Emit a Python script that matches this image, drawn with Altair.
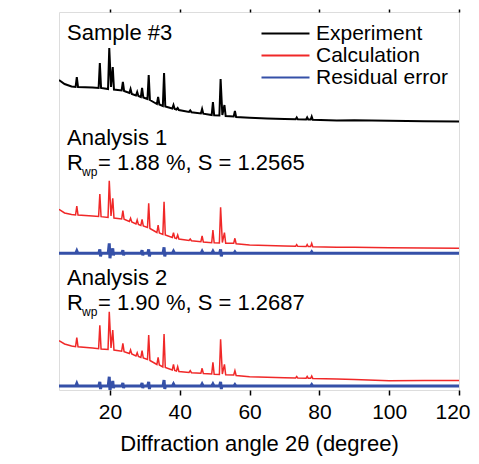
import altair as alt
import pandas as pd

# shared x positions (2theta, degree) for experiment / calculation curves
xs = [5.4, 7, 9, 10.15, 10.5, 10.85, 15, 16.75, 17.1, 17.45,
      19.45, 19.8, 20.3, 20.8, 21.15, 23.35, 23.7, 24.05,
      25.55, 25.9, 26.25, 27.45, 27.8, 28.15, 28.85, 29.2, 29.55,
      30.75, 31.1, 31.45, 33.45, 33.8, 34.15, 35.15, 35.5, 35.85,
      37.85, 38.2, 38.55, 39.05, 39.4, 39.75, 42.65, 43, 43.35,
      46.05, 46.4, 46.75, 49.15, 49.5, 49.85, 51.35, 51.7, 52.2, 52.8, 53.15,
      55.45, 55.8, 56.15, 60, 65, 70, 73.2, 73.5, 73.8,
      76.2, 76.5, 76.8, 77.5, 77.8, 78.1, 85, 90, 100, 110, 120]

exp_y = [310, 306, 303.5, 303, 313, 303, 302.5, 302, 327, 302,
         301, 342, 303, 323, 300.5, 299.5, 308, 299,
         297, 301, 296, 294.5, 298, 294, 293, 302, 292.5,
         291, 315, 290, 286, 293, 285.5, 284, 317, 283.5,
         281.5, 285, 281, 280.5, 282, 280, 278, 279.5, 277.8,
         276.5, 281, 276.3, 275, 288, 274.8, 274.5, 311, 275, 285, 274,
         273.5, 279, 273, 272.3, 271.5, 271, 270.8, 272.5, 270.7,
         270.5, 272.5, 270.5, 270.5, 273.5, 270.3, 269.5, 269.8, 269.3, 268.8, 268.5]

calc1_y = [180.7, 177, 175.5, 175, 184, 175, 174, 173.5, 196, 173.3,
           172.5, 209.3, 174, 191.7, 172, 171, 179.3, 170.7,
           168.5, 171.7, 168, 166, 170, 165.5, 164.5, 170.7, 164,
           162.5, 186.7, 161.5, 157.5, 165, 157, 155.5, 188.3, 155,
           152.5, 157.3, 152, 151.5, 155, 151, 149.5, 151, 149.3,
           148.3, 154, 148, 147.3, 160, 147.2, 147, 182.7, 147.5, 157.3, 146.8,
           146.7, 151.7, 146.3, 145, 144.5, 144, 143.8, 145.3, 143.7,
           143.5, 145.5, 143.5, 143.4, 146.5, 143.3, 142.7, 142.8, 142.2, 141.9, 141.7]

calc2_y = [49.3, 46, 44, 43.3, 52.3, 43.2, 42, 41.3, 64.7, 41,
           40.5, 78.3, 42, 60, 40, 38.8, 46.7, 38.3,
           36.5, 40, 36, 34, 37.3, 33.5, 32.5, 39.3, 32,
           30.5, 55, 29.5, 25.5, 32.7, 25, 23, 56, 22.5,
           20, 25.7, 19.5, 19, 23.3, 18.5, 17.5, 19.3, 17.3,
           16.8, 21.7, 16.5, 16, 27.7, 15.8, 15.5, 50.7, 16, 25.7, 15.3,
           15, 19.3, 14.5, 13.3, 12.8, 12.3, 12, 13.5, 12,
           11.8, 13.5, 11.8, 11.7, 14, 11.6, 11, 10.5, 9.3, 9.5, 9.5]

# residual error curves (flat band with small spikes at the peak positions)
res_x = [5.4, 10.2, 10.5, 10.8, 16.8, 17.1, 17.3, 17.5, 19.5, 19.8, 20.0, 20.2,
         20.5, 20.8, 21.0, 21.2, 23.4, 23.7, 23.9, 24.1, 28.9, 29.2, 29.4, 29.6,
         30.8, 31.1, 31.3, 31.5, 35.2, 35.5, 35.7, 35.9, 37.9, 38.2, 38.5,
         46.1, 46.4, 46.7, 49.2, 49.5, 49.8, 51.4, 51.7, 51.9, 52.1,
         55.5, 55.8, 56.1, 77.5, 77.8, 78.1, 120]
res1_y = [136.7, 136.7, 139.2, 136.7, 136.7, 140.7, 133.7, 136.7, 136.7, 146.7, 131.7, 136.7,
          136.7, 141.7, 134.7, 136.7, 136.7, 139.7, 134.7, 136.7, 136.7, 139.7, 134.7, 136.7,
          136.7, 140.7, 133.7, 136.7, 136.7, 142.7, 133.7, 136.7, 136.7, 138.7, 136.7,
          136.7, 138.7, 136.7, 136.7, 138.7, 136.7, 136.7, 140.7, 133.7, 136.7,
          136.7, 138.2, 136.7, 136.7, 138.2, 136.7, 136.7]
res2_y = [4, 4, 6.5, 4, 4, 8, 1, 4, 4, 13.3, -1, 4,
          4, 9, 2, 4, 4, 7, 2, 4, 4, 7, 2, 4,
          4, 8, 1, 4, 4, 10, 1, 4, 4, 6, 4,
          4, 6, 4, 4, 6, 4, 4, 8, 1, 4,
          4, 5.5, 4, 4, 5.5, 4, 4]

series_names = ["Experiment", "Calculation", "Residual error"]
series_colors = ["#000000", "#f02828", "#3550a8"]
series_widths = [2, 1.5, 3]

panel_titles = ["Sample #3", "Analysis 1", "Analysis 2"]
panel_title_y = [357, 252, 112]
rwp_values = ["1.88", "1.90"]
s_values = ["1.2565", "1.2687"]
rwp_y = [227, 87]

rows = []
for x, a, b, c in zip(xs, exp_y, calc1_y, calc2_y):
    rows.append({"x": x, "y": a, "series": "Experiment", "panel": "S"})
    rows.append({"x": x, "y": b, "series": "Calculation", "panel": "A1"})
    rows.append({"x": x, "y": c, "series": "Calculation", "panel": "A2"})
for x, a, b in zip(res_x, res1_y, res2_y):
    rows.append({"x": x, "y": a, "series": "Residual error", "panel": "A1"})
    rows.append({"x": x, "y": b, "series": "Residual error", "panel": "A2"})
df = pd.DataFrame(rows)

title_df = pd.DataFrame({"x": [7.7] * 3, "y": panel_title_y, "t": panel_titles})
rwp_df = pd.DataFrame({"x": [7.7] * 2, "y": rwp_y,
                       "r": ["R"] * 2, "sub": ["wp"] * 2,
                       "rest": [f" = {r} %, S = {s}" for r, s in zip(rwp_values, s_values)]})

FONT = "Liberation Sans"
xscale = alt.Scale(domain=[5.4, 120], nice=False, zero=False)
yscale = alt.Scale(domain=[0, 378], nice=False, zero=False)
xticks = [20, 40, 60, 80, 100, 120]

x_main = alt.X("x:Q", scale=xscale, axis=alt.Axis(
    values=xticks, title="Diffraction angle 2θ (degree)", grid=False, domain=False,
    tickSize=5, tickWidth=1.5, tickColor="black", labelFontSize=21, labelColor="black",
    labelPadding=6, labelFont=FONT, titleFont=FONT, titleFontSize=22,
    titleFontWeight="normal", titleColor="black", titlePadding=11,
    labelFlush=True, labelFlushOffset=11))
y_main = alt.Y("y:Q", scale=yscale, axis=alt.Axis(
    title="Intensity (arb. units)", labels=False, ticks=False, domain=False, grid=False,
    titleFont=FONT, titleFontSize=22, titleFontWeight="normal", titleColor="black",
    titlePadding=38))
color_enc = alt.Color("series:N", scale=alt.Scale(domain=series_names, range=series_colors),
                      sort=series_names,
                      legend=alt.Legend(title=None, orient="none", legendX=216, legendY=11,
                                        symbolType="M-12,0H12", symbolSize=16,
                                        symbolStrokeWidth=2, labelFontSize=21,
                                        labelFont=FONT, labelColor="black", labelOffset=20,
                                        rowPadding=0))

line_layers = []
for i, (name, w) in enumerate(zip(series_names, series_widths)):
    line_layers.append(
        alt.Chart(df).transform_filter(alt.datum.series == name)
        .mark_line(clip=True, strokeWidth=w)
        .encode(x=x_main if i == 0 else alt.X("x:Q", scale=xscale, axis=None),
                y=y_main if i == 0 else alt.Y("y:Q", scale=yscale, axis=None),
                color=color_enc, detail="panel:N")
    )

top_axis = alt.Chart(df).mark_point(opacity=0).encode(
    x=alt.X("x:Q", scale=xscale, axis=alt.Axis(
        orient="top", values=xticks, labels=False, title=None, grid=False, domain=False,
        tickSize=3, tickWidth=1.5, tickColor="black")),
    y=alt.Y("y:Q", scale=yscale, axis=None),
)

enc_xy = dict(x=alt.X("x:Q", scale=xscale, axis=None), y=alt.Y("y:Q", scale=yscale, axis=None))

titles = alt.Chart(title_df).mark_text(align="left", baseline="middle", font=FONT,
                                       fontSize=22, color="black").encode(text="t:N", **enc_xy)
r_text = alt.Chart(rwp_df).mark_text(align="left", baseline="middle", font=FONT,
                                     fontSize=22, color="black").encode(text="r:N", **enc_xy)
sub_text = alt.Chart(rwp_df).mark_text(align="left", baseline="middle", font=FONT,
                                       fontSize=12, color="black", dx=15, dy=9).encode(text="sub:N", **enc_xy)
rest_text = alt.Chart(rwp_df).mark_text(align="left", baseline="middle", font=FONT,
                                        fontSize=22, color="black", dx=31).encode(text="rest:N", **enc_xy)

chart = alt.layer(*line_layers, top_axis, titles, r_text, sub_text, rest_text).resolve_axis(
    x="independent"
).properties(
    width=400, height=378,
    autosize=alt.AutoSizeParams(type="none"),
    padding={"left": 51, "top": 4, "right": 12, "bottom": 66},
).configure_view(
    stroke="black", strokeWidth=2
).configure(font=FONT)

chart.save("out.html", embed_options={"renderer": "svg", "actions": False})
